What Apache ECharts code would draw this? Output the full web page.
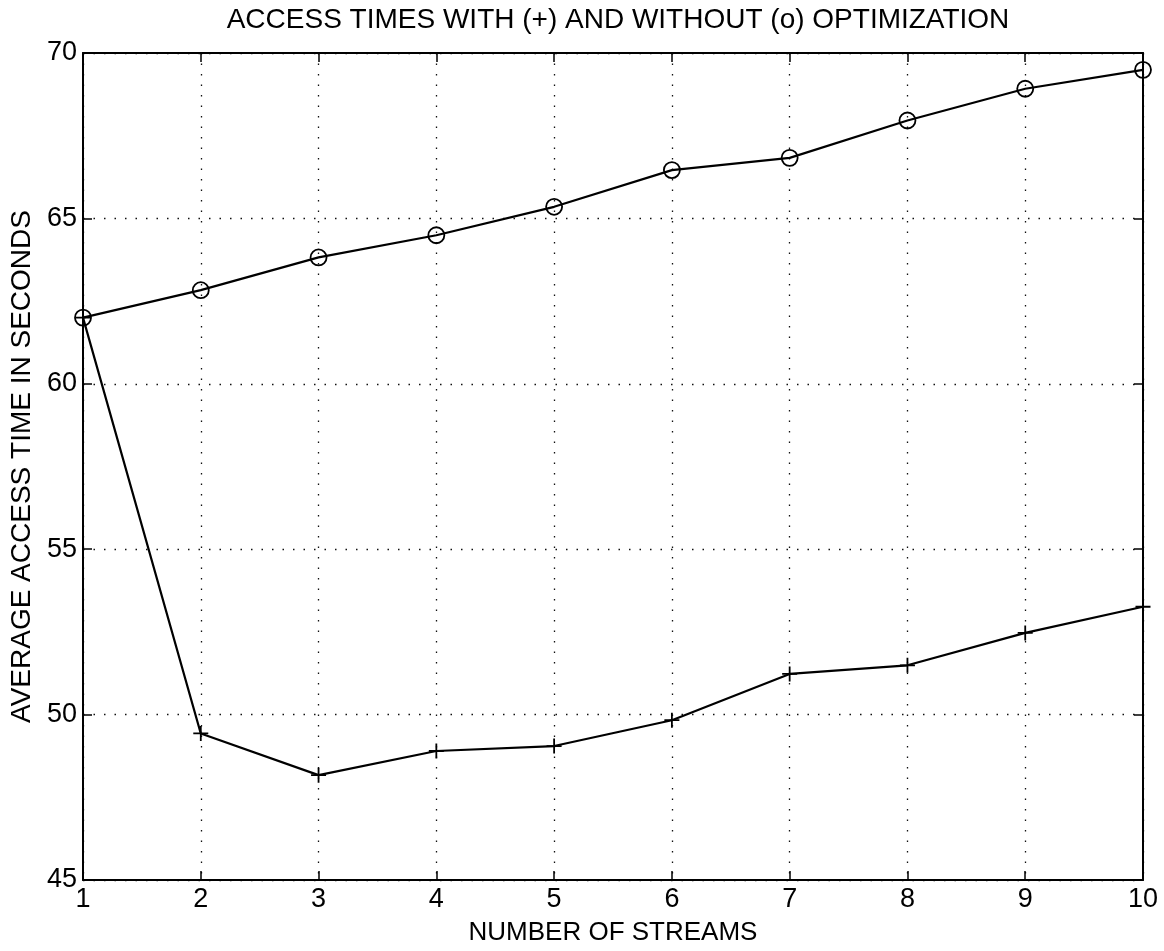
<!DOCTYPE html>
<html>
<head>
<meta charset="utf-8">
<script src="https://cdn.jsdelivr.net/npm/echarts@6/dist/echarts.min.js"></script>
<style>
html,body{margin:0;padding:0;background:#fff;}
#chart{width:1164px;height:951px;}
</style>
</head>
<body>
<div id="chart"></div>
<script>
var streams = [1, 2, 3, 4, 5, 6, 7, 8, 9, 10];
var withoutOpt = [62.0, 62.83, 63.82, 64.49, 65.35, 66.46, 66.83, 67.96, 68.92, 69.49];
var withOpt = [62.0, 49.43, 48.17, 48.9, 49.05, 49.83, 51.23, 51.49, 52.47, 53.26];
var titleText = 'ACCESS TIMES WITH (+) AND WITHOUT (o) OPTIMIZATION';
var xName = 'NUMBER OF STREAMS';
var yName = 'AVERAGE ACCESS TIME IN SECONDS';

function pairs(xs, ys) { return xs.map(function (x, i) { return [x, ys[i]]; }); }

var FONT = '"Liberation Sans", Arial, Helvetica, sans-serif';
var gridLine = { show: true, lineStyle: { color: '#111', width: 1.3, type: [1.5, 9] } };

var chart = echarts.init(document.getElementById('chart'), null, { renderer: 'canvas' });
chart.setOption({
  animation: false,
  backgroundColor: '#fff',
  title: {
    text: titleText,
    left: 613, top: 1, textAlign: 'center',
    textStyle: { fontFamily: FONT, fontSize: 28, fontWeight: 'normal', color: '#000' }
  },
  grid: { left: 83, right: 21, top: 53, bottom: 67, containLabel: false },
  xAxis: [{
    type: 'value', min: 1, max: 10, interval: 1, position: 'bottom',
    name: xName, nameLocation: 'middle', nameGap: 40,
    nameTextStyle: { fontFamily: FONT, fontSize: 26, color: '#000' },
    axisLine: { show: true, onZero: false, lineStyle: { color: '#000', width: 2 } },
    axisTick: { show: true, inside: true, length: 9, lineStyle: { color: '#000', width: 1.5 } },
    axisLabel: { fontFamily: FONT, fontSize: 27, color: '#000', margin: 6 },
    splitLine: gridLine
  }, {
    type: 'value', min: 1, max: 10, interval: 1, position: 'top',
    axisLine: { show: true, onZero: false, lineStyle: { color: '#000', width: 2 } },
    axisTick: { show: true, inside: true, length: 9, lineStyle: { color: '#000', width: 1.5 } },
    axisLabel: { show: false }, splitLine: { show: false }
  }],
  yAxis: [{
    type: 'value', min: 45, max: 70, interval: 5, position: 'left',
    name: yName, nameLocation: 'middle', nameGap: 47, nameRotate: 90,
    nameTextStyle: { fontFamily: FONT, fontSize: 28, color: '#000' },
    axisLine: { show: true, onZero: false, lineStyle: { color: '#000', width: 2 } },
    axisTick: { show: true, inside: true, length: 9, lineStyle: { color: '#000', width: 1.5 } },
    axisLabel: { fontFamily: FONT, fontSize: 27, color: '#000', margin: 6 },
    splitLine: gridLine
  }, {
    type: 'value', min: 45, max: 70, interval: 5, position: 'right',
    axisLine: { show: true, onZero: false, lineStyle: { color: '#000', width: 2 } },
    axisTick: { show: true, inside: true, length: 9, lineStyle: { color: '#000', width: 1.5 } },
    axisLabel: { show: false }, splitLine: { show: false }
  }],
  series: [{
    name: 'without (o)', type: 'line', xAxisIndex: 0, yAxisIndex: 0,
    data: pairs(streams, withoutOpt),
    symbol: 'circle', symbolSize: 16, showAllSymbol: true,
    lineStyle: { color: '#000', width: 2.2 },
    itemStyle: { color: 'rgba(0,0,0,0)', borderColor: '#000', borderWidth: 1.8 },
    emphasis: { disabled: true }, z: 3
  }, {
    name: 'with (+)', type: 'line', xAxisIndex: 0, yAxisIndex: 0,
    data: pairs(streams, withOpt),
    symbol: 'path://M5,0L5,10M0,5L10,5', symbolSize: 15, showAllSymbol: true,
    lineStyle: { color: '#000', width: 2.2 },
    itemStyle: { color: 'rgba(0,0,0,0)', borderColor: '#000', borderWidth: 1.8 },
    emphasis: { disabled: true }, z: 3
  }]
});
</script>
</body>
</html>
